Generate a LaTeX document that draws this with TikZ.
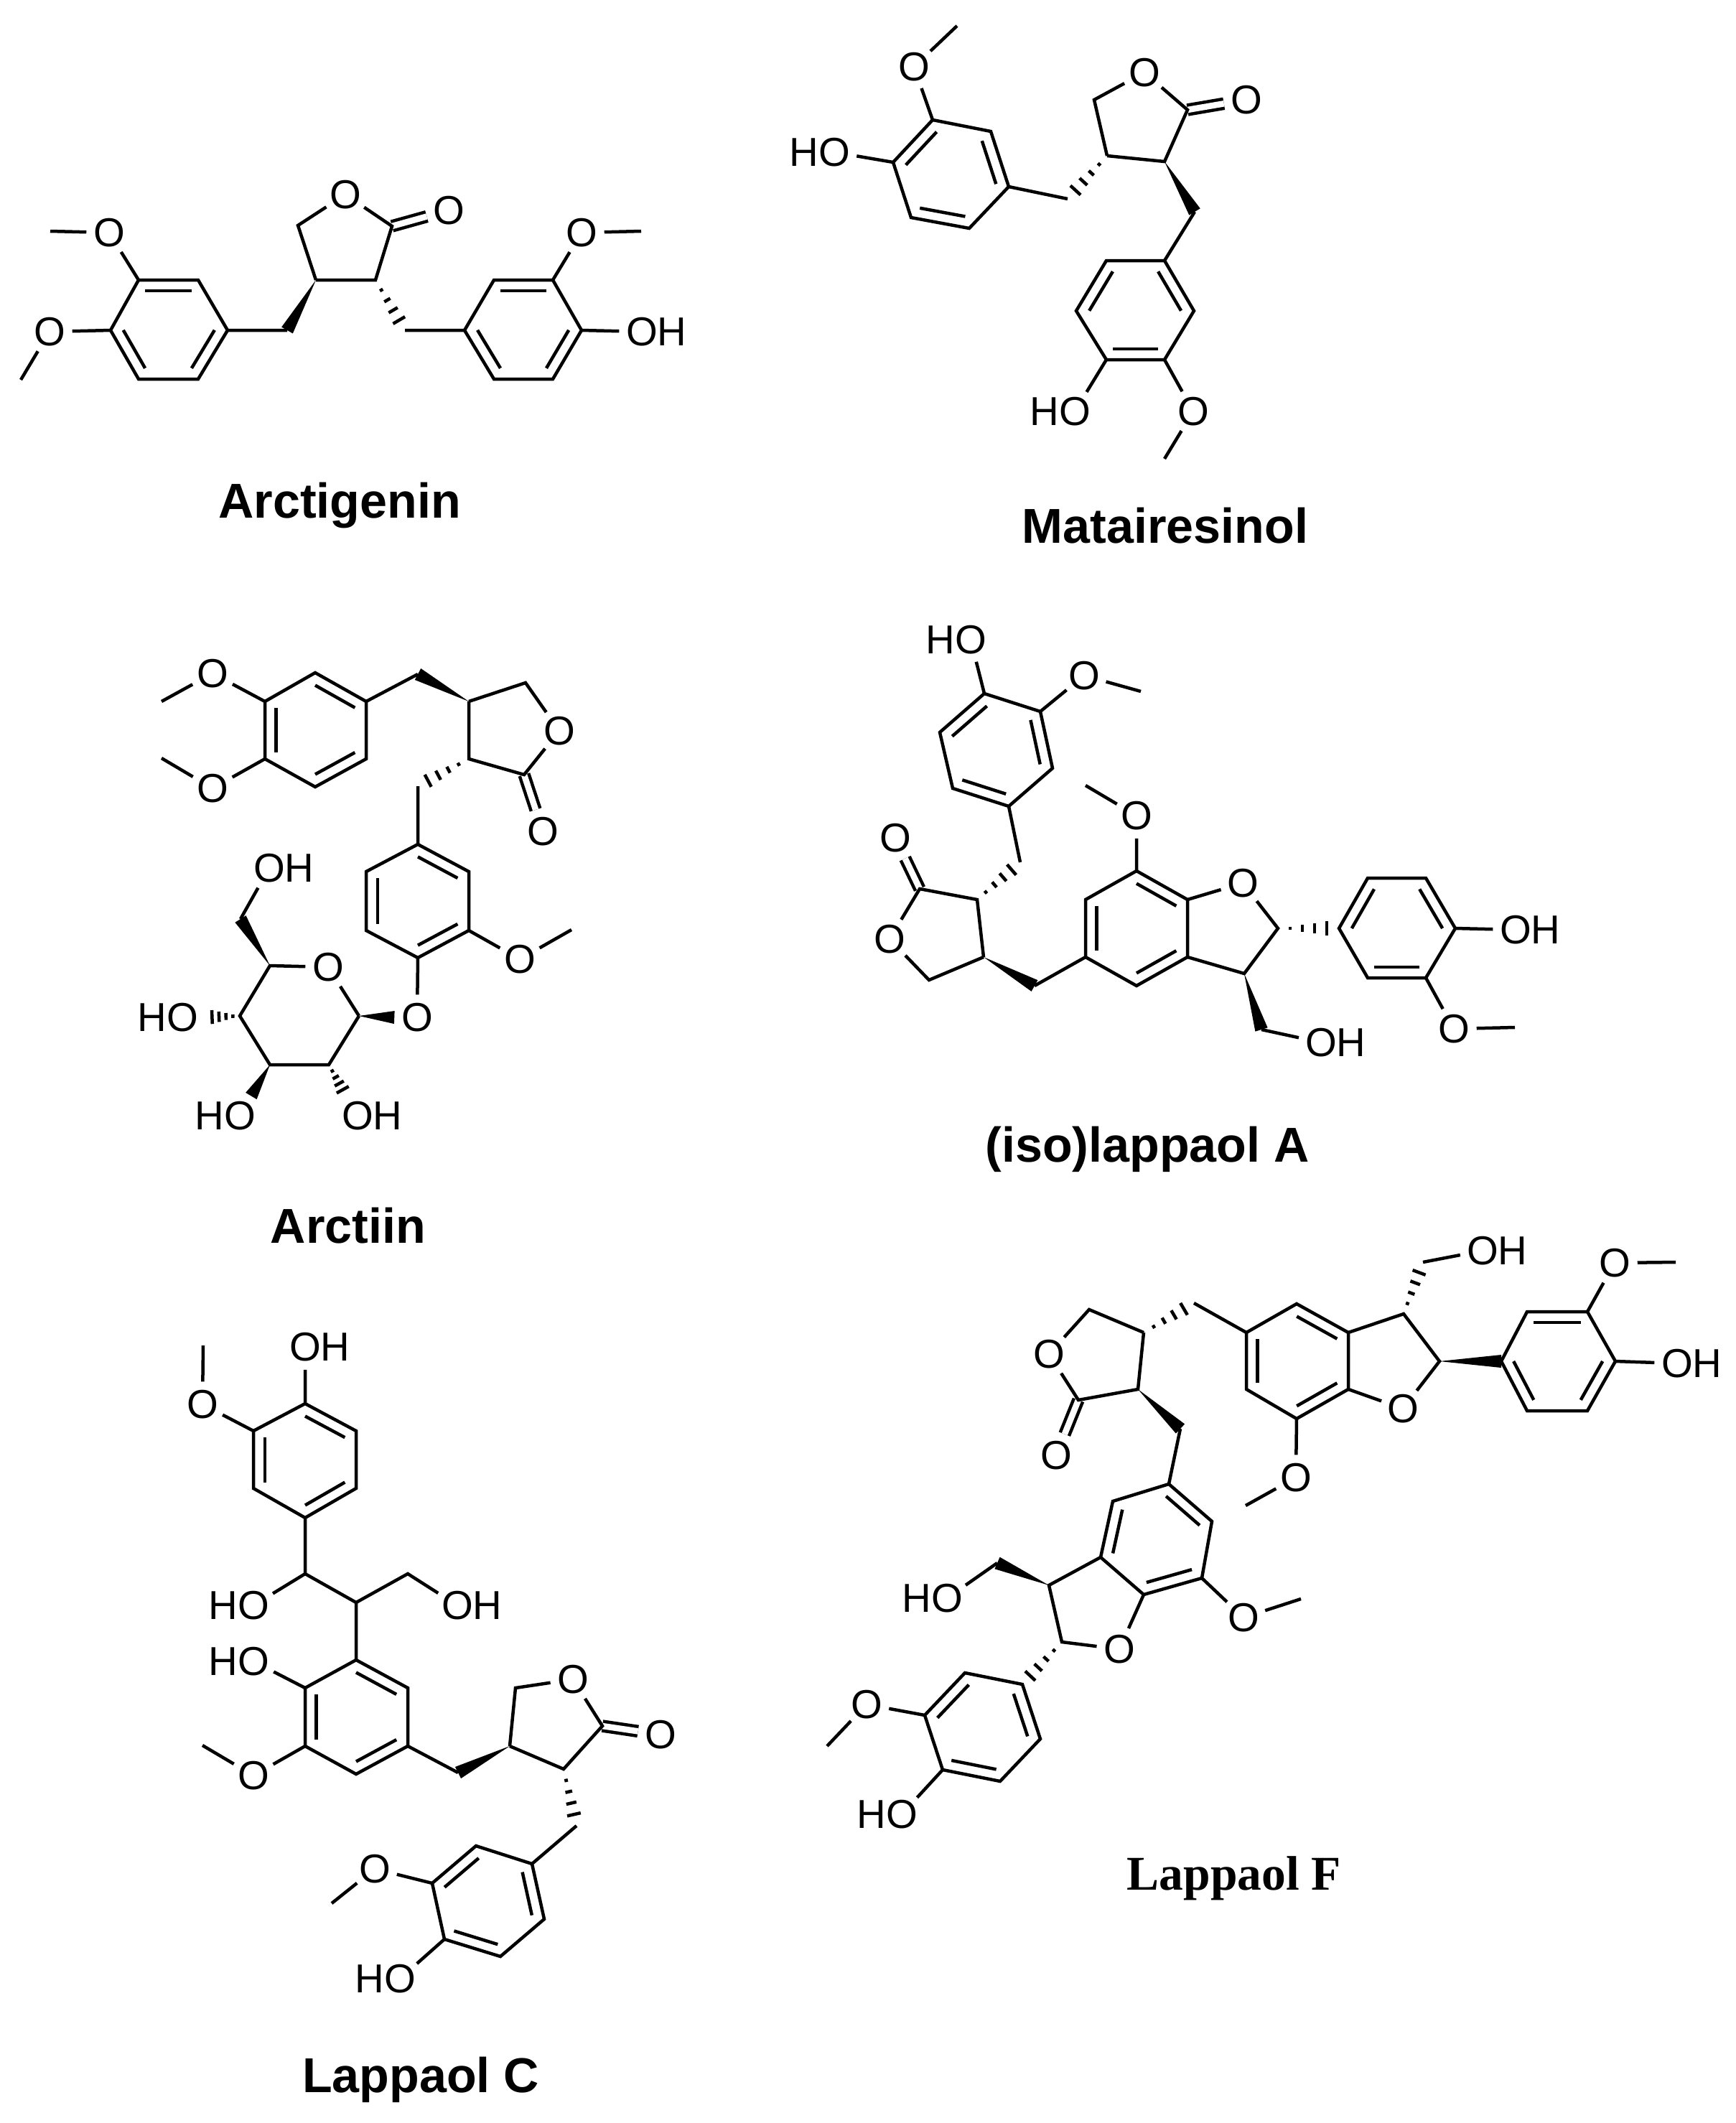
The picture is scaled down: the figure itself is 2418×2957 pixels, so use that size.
\documentclass[tikz,border=0pt]{standalone}
\usepackage{fontspec}
\setmainfont{Liberation Sans}
\newfontfamily\timesface{Liberation Serif}
\usetikzlibrary{calc}

\tikzset{
    atom/.style={circle, inner sep=0pt, minimum size=.58cm, font=\fontsize{16}{19}\selectfont},
    compound/.style={anchor=base, inner sep=0pt, font=\fontsize{19.4}{22}\selectfont\bfseries},
    carbonyl/.style={double, double distance=.085cm}
}
\newcommand{\OHtext}{O\rlap{H}}
\newcommand{\HOtext}{\llap{H}O}
\newcommand{\arene}[6]{
    \coordinate (rc) at ($(#1)!.5!(#4)$);
    \draw (#1) -- (#2) -- (#3) -- (#4) -- (#5) -- (#6) -- cycle;
    \draw ($(#1)!.22!(rc)$) -- ($(#2)!.22!(rc)$);
    \draw ($(#3)!.22!(rc)$) -- ($(#4)!.22!(rc)$);
    \draw ($(#5)!.22!(rc)$) -- ($(#6)!.22!(rc)$);
}
\newcommand{\wedgeb}[2]{
    \fill (#1) -- ($(#2)!.09cm!90:(#1)$) -- ($(#2)!.09cm!-90:(#1)$) -- cycle;
}
\newcommand{\hashb}[2]{
    \foreach \hf in {.2,.4,.6,.8}
        \draw ($(#1)!\hf!(#2)!\hf*.12cm!90:(#2)$) -- ($(#1)!\hf!(#2)!\hf*.12cm!-90:(#2)$);
}

\begin{document}
\begin{tikzpicture}[x=.01cm, y=-.01cm, line width=.045cm]
    \useasboundingbox (0,0) rectangle (2418,2957);

    \coordinate (ara1) at (193,390);
    \coordinate (ara2) at (276,390);
    \coordinate (ara3) at (317,460);
    \coordinate (ara4) at (276,528);
    \coordinate (ara5) at (193,528);
    \coordinate (ara6) at (154,460);
    \coordinate (arb1) at (647,460);
    \coordinate (arb2) at (688,390);
    \coordinate (arb3) at (770,390);
    \coordinate (arb4) at (810,460);
    \coordinate (arb5) at (770,528);
    \coordinate (arb6) at (688,528);
    \coordinate (arc2) at (546,315);
    \coordinate (arc3) at (523,390);
    \coordinate (arc4) at (440,390);
    \coordinate (arc5) at (415,314);
    \coordinate (arm1) at (400,460);
    \coordinate (arm2) at (564,460);
    \coordinate (arme1) at (70,322);
    \coordinate (arme2) at (29,529);
    \coordinate (arme3) at (893,322);
    \node[atom] (arol) at (481,271) {O};
    \node[atom] (arox) at (625,293) {O};
    \node[atom] (aro1) at (152,324) {O};
    \node[atom] (aro2) at (69,462) {O};
    \node[atom] (aro3) at (810,324) {O};
    \node[atom] (aroh) at (894,462) {\OHtext};
    \node[compound] (arname) at (473,721) {Arctigenin};
    \draw[carbonyl] (arc2) -- (arox);
    \arene{ara1}{ara2}{ara3}{ara4}{ara5}{ara6}
    \arene{arb2}{arb3}{arb4}{arb5}{arb6}{arb1}
    \draw (arc4) -- (arc3) -- (arc2) -- (arol) -- (arc5) -- (arc4);
    \wedgeb{arc4}{arm1}
    \hashb{arc3}{arm2}
    \draw
    (arm1) -- (ara3)
    (arm2) -- (arb1)
    (ara1) -- (aro1) -- (arme1)
    (ara6) -- (aro2) -- (arme2)
    (arb3) -- (aro3) -- (arme3)
    (arb4) -- (aroh);

    \coordinate (maa1) at (1299,167);
    \coordinate (maa2) at (1380,183);
    \coordinate (maa3) at (1405,260);
    \coordinate (maa4) at (1350,318);
    \coordinate (maa5) at (1269,303);
    \coordinate (maa6) at (1244,226);
    \coordinate (mab1) at (1622,363);
    \coordinate (mab2) at (1663,433);
    \coordinate (mab3) at (1622,501);
    \coordinate (mab4) at (1541,501);
    \coordinate (mab5) at (1499,433);
    \coordinate (mab6) at (1541,363);
    \coordinate (mac2) at (1654,153);
    \coordinate (mac3) at (1622,225);
    \coordinate (mac4) at (1542,217);
    \coordinate (mac5) at (1524,139);
    \coordinate (mam1) at (1487,277);
    \coordinate (mam2) at (1664,295);
    \coordinate (mame1) at (1333,36);
    \coordinate (mame2) at (1622,639);
    \node[atom] (maol) at (1594,101) {O};
    \node[atom] (maox) at (1736,139) {O};
    \node[atom] (mao1) at (1273,93) {O};
    \node[atom] (mao2) at (1662,573) {O};
    \node[atom] (maoh1) at (1162,212) {\HOtext};
    \node[atom] (maoh2) at (1497,573) {\HOtext};
    \node[compound] (maname) at (1623,756) {Matairesinol};
    \draw[carbonyl] (mac2) -- (maox);
    \arene{maa6}{maa1}{maa2}{maa3}{maa4}{maa5}
    \arene{mab1}{mab2}{mab3}{mab4}{mab5}{mab6}
    \draw (mac4) -- (mac3) -- (mac2) -- (maol) -- (mac5) -- (mac4);
    \hashb{mac4}{mam1}
    \wedgeb{mac3}{mam2}
    \draw
    (mam1) -- (maa3)
    (mam2) -- (mab1)
    (maa1) -- (mao1) -- (mame1)
    (maa6) -- (maoh1)
    (mab3) -- (mao2) -- (mame2)
    (mab4) -- (maoh2);

    \coordinate (ana1) at (439,937);
    \coordinate (ana2) at (510,977);
    \coordinate (ana3) at (510,1057);
    \coordinate (ana4) at (439,1096);
    \coordinate (ana5) at (369,1057);
    \coordinate (ana6) at (369,977);
    \coordinate (anb1) at (582,1176);
    \coordinate (anb2) at (653,1214);
    \coordinate (anb3) at (653,1296);
    \coordinate (anb4) at (582,1334);
    \coordinate (anb5) at (510,1296);
    \coordinate (anb6) at (510,1214);
    \coordinate (anc2) at (730,1079);
    \coordinate (anc3) at (653,1057);
    \coordinate (anc4) at (653,977);
    \coordinate (anc5) at (732,951);
    \coordinate (anm1) at (582,939);
    \coordinate (anm2) at (582,1095);
    \coordinate (anme1) at (225,977);
    \coordinate (anme2) at (225,1056);
    \coordinate (anme3) at (796,1295);
    \coordinate (ans1) at (500,1415);
    \coordinate (ans2) at (458,1483);
    \coordinate (ans3) at (376,1483);
    \coordinate (ans4) at (334,1415);
    \coordinate (ans5) at (376,1345);
    \coordinate (ans6) at (335,1280);
    \node[atom] (anol) at (779,1018) {O};
    \node[atom] (anox) at (756,1158) {O};
    \node[atom] (ano1) at (296,938) {O};
    \node[atom] (ano2) at (296,1098) {O};
    \node[atom] (ano3) at (724,1336) {O};
    \node[atom] (anog) at (581,1417) {O};
    \node[atom] (anos) at (457,1347) {O};
    \node[atom] (anoh6) at (375,1209) {\OHtext};
    \node[atom] (anoh4) at (254,1417) {\HOtext};
    \node[atom] (anoh3) at (334,1554) {\HOtext};
    \node[atom] (anoh2) at (498,1554) {\OHtext};
    \node[compound] (anname) at (485,1731) {Arctiin};
    \draw[carbonyl] (anc2) -- (anox);
    \arene{ana1}{ana2}{ana3}{ana4}{ana5}{ana6}
    \arene{anb1}{anb2}{anb3}{anb4}{anb5}{anb6}
    \draw (anc4) -- (anc3) -- (anc2) -- (anol) -- (anc5) -- (anc4);
    \wedgeb{anc4}{anm1}
    \hashb{anc3}{anm2}
    \wedgeb{ans1}{anog.west}
    \wedgeb{ans5}{ans6}
    \wedgeb{ans3}{anoh3.60}
    \hashb{ans4}{anoh4.east}
    \hashb{ans2}{anoh2.120}
    \draw
    (anm1) -- (ana2)
    (anm2) -- (anb1)
    (ana6) -- (ano1) -- (anme1)
    (ana5) -- (ano2) -- (anme2)
    (anb3) -- (ano3) -- (anme3)
    (anb4) -- (anog)
    (ans1) -- (anos) -- (ans5) -- (ans4) -- (ans3) -- (ans2) -- (ans1)
    (ans6) -- (anoh6);

    \coordinate (laa1) at (1371,966);
    \coordinate (laa2) at (1449,991);
    \coordinate (laa3) at (1466,1070);
    \coordinate (laa4) at (1405,1123);
    \coordinate (laa5) at (1327,1098);
    \coordinate (laa6) at (1309,1020);
    \coordinate (lab1) at (1512,1333);
    \coordinate (lab2) at (1512,1253);
    \coordinate (lab3) at (1583,1213);
    \coordinate (lab4) at (1654,1253);
    \coordinate (lab5) at (1654,1333);
    \coordinate (lab6) at (1583,1373);
    \coordinate (lad1) at (1865,1293);
    \coordinate (lad2) at (1905,1223);
    \coordinate (lad3) at (1986,1223);
    \coordinate (lad4) at (2027,1293);
    \coordinate (lad5) at (1986,1362);
    \coordinate (lad6) at (1905,1362);
    \coordinate (lac2) at (1281,1238);
    \coordinate (lac3) at (1361,1253);
    \coordinate (lac4) at (1370,1333);
    \coordinate (lac5) at (1294,1365);
    \coordinate (lam1) at (1421,1201);
    \coordinate (lam2) at (1441,1373);
    \coordinate (laf2) at (1780,1293);
    \coordinate (laf3) at (1733,1356);
    \coordinate (laf4) at (1757,1434);
    \coordinate (lame1) at (1589,963);
    \coordinate (lame2) at (1512,1094);
    \coordinate (lame3) at (2110,1431);
    \node[atom] (laol) at (1239,1308) {O};
    \node[atom] (laox) at (1247,1167) {O};
    \node[atom] (lao1) at (1510,941) {O};
    \node[atom] (lao2) at (1583,1136) {O};
    \node[atom] (lao3) at (2025,1433) {O};
    \node[atom] (laof) at (1731,1230) {O};
    \node[atom] (laoh1) at (1352,891) {\HOtext};
    \node[atom] (laoh2) at (2111,1295) {\OHtext};
    \node[atom] (laoh3) at (1840,1452) {\OHtext};
    \node[compound] (laname) at (1598,1618) {(iso)lappaol A};
    \draw[carbonyl] (lac2) -- (laox);
    \arene{laa6}{laa1}{laa2}{laa3}{laa4}{laa5}
    \arene{lab1}{lab2}{lab3}{lab4}{lab5}{lab6}
    \arene{lad1}{lad2}{lad3}{lad4}{lad5}{lad6}
    \draw (lac4) -- (lac3) -- (lac2) -- (laol) -- (lac5) -- (lac4);
    \hashb{lac3}{lam1}
    \wedgeb{lac4}{lam2}
    \hashb{laf2}{lad1}
    \wedgeb{laf3}{laf4}
    \draw
    (lam1) -- (laa4)
    (lam2) -- (lab1)
    (laa1) -- (laoh1)
    (laa2) -- (lao1) -- (lame1)
    (lab3) -- (lao2) -- (lame2)
    (lab4) -- (laof) -- (laf2) -- (laf3) -- (lab5)
    (laf4) -- (laoh3)
    (lad4) -- (laoh2)
    (lad5) -- (lao3) -- (lame3);

    \coordinate (lca1) at (425,1955);
    \coordinate (lca2) at (496,1993);
    \coordinate (lca3) at (496,2073);
    \coordinate (lca4) at (425,2114);
    \coordinate (lca5) at (353,2073);
    \coordinate (lca6) at (353,1993);
    \coordinate (lcb1) at (496,2312);
    \coordinate (lcb2) at (568,2351);
    \coordinate (lcb3) at (568,2432);
    \coordinate (lcb4) at (496,2471);
    \coordinate (lcb5) at (425,2432);
    \coordinate (lcb6) at (425,2351);
    \coordinate (lcd1) at (741,2596);
    \coordinate (lcd2) at (758,2673);
    \coordinate (lcd3) at (697,2725);
    \coordinate (lcd4) at (619,2701);
    \coordinate (lcd5) at (602,2623);
    \coordinate (lcd6) at (663,2571);
    \coordinate (lcc2) at (839,2404);
    \coordinate (lcc3) at (785,2464);
    \coordinate (lcc4) at (710,2432);
    \coordinate (lcc5) at (718,2351);
    \coordinate (lcm1) at (638,2469);
    \coordinate (lcm2) at (803,2543);
    \coordinate (lcs1) at (425,2192);
    \coordinate (lcs2) at (496,2232);
    \coordinate (lcs3) at (568,2192);
    \coordinate (lcme1) at (283,1874);
    \coordinate (lcme2) at (282,2431);
    \coordinate (lcme3) at (462,2651);
    \node[atom] (lcol) at (798,2339) {O};
    \node[atom] (lcox) at (920,2416) {O};
    \node[atom] (lco1) at (282,1956) {O};
    \node[atom] (lco2) at (353,2473) {O};
    \node[atom] (lco3) at (522,2603) {O};
    \node[atom] (lcoh1) at (425,1876) {\OHtext};
    \node[atom] (lcoh2) at (353,2236) {\HOtext};
    \node[atom] (lcoh3) at (637,2236) {\OHtext};
    \node[atom] (lcoh4) at (353,2314) {\HOtext};
    \node[atom] (lcoh5) at (557,2756) {\HOtext};
    \node[compound] (lcname) at (586,2914) {Lappaol C};
    \draw[carbonyl] (lcc2) -- (lcox);
    \arene{lca1}{lca2}{lca3}{lca4}{lca5}{lca6}
    \arene{lcb1}{lcb2}{lcb3}{lcb4}{lcb5}{lcb6}
    \arene{lcd1}{lcd2}{lcd3}{lcd4}{lcd5}{lcd6}
    \draw (lcc4) -- (lcc3) -- (lcc2) -- (lcol) -- (lcc5) -- (lcc4);
    \wedgeb{lcc4}{lcm1}
    \hashb{lcc3}{lcm2}
    \draw
    (lca1) -- (lcoh1)
    (lca6) -- (lco1) -- (lcme1)
    (lca4) -- (lcs1) -- (lcs2) -- (lcs3) -- (lcoh3)
    (lcs1) -- (lcoh2)
    (lcs2) -- (lcb1)
    (lcb6) -- (lcoh4)
    (lcb5) -- (lco2) -- (lcme2)
    (lcb3) -- (lcm1)
    (lcm2) -- (lcd1)
    (lcd5) -- (lco3) -- (lcme3)
    (lcd4) -- (lcoh5);

    \coordinate (lfa1) at (1736,1856);
    \coordinate (lfa2) at (1806,1816);
    \coordinate (lfa3) at (1878,1856);
    \coordinate (lfa4) at (1878,1935);
    \coordinate (lfa5) at (1806,1976);
    \coordinate (lfa6) at (1736,1935);
    \coordinate (lfb1) at (2091,1896);
    \coordinate (lfb2) at (2127,1827);
    \coordinate (lfb3) at (2211,1827);
    \coordinate (lfb4) at (2250,1896);
    \coordinate (lfb5) at (2211,1965);
    \coordinate (lfb6) at (2127,1965);
    \coordinate (lfd1) at (1628,2067);
    \coordinate (lfd2) at (1688,2119);
    \coordinate (lfd3) at (1674,2198);
    \coordinate (lfd4) at (1593,2221);
    \coordinate (lfd5) at (1533,2169);
    \coordinate (lfd6) at (1550,2091);
    \coordinate (lfe1) at (1424,2346);
    \coordinate (lfe2) at (1449,2422);
    \coordinate (lfe3) at (1393,2481);
    \coordinate (lfe4) at (1313,2465);
    \coordinate (lfe5) at (1288,2389);
    \coordinate (lfe6) at (1344,2330);
    \coordinate (lfc2) at (1502,1950);
    \coordinate (lfc3) at (1585,1935);
    \coordinate (lfc4) at (1593,1856);
    \coordinate (lfc5) at (1517,1824);
    \coordinate (lfm1) at (1663,1815);
    \coordinate (lfm2) at (1644,1990);
    \coordinate (lff2) at (2005,1896);
    \coordinate (lff3) at (1955,1830);
    \coordinate (lff4) at (1982,1758);
    \coordinate (lfg2) at (1479,2287);
    \coordinate (lfg3) at (1461,2208);
    \coordinate (lfg4) at (1389,2177);
    \coordinate (lfme1) at (2334,1758);
    \coordinate (lfme2) at (1735,2097);
    \coordinate (lfme3) at (1812,2227);
    \coordinate (lfme4) at (1152,2432);
    \node[atom] (lfol) at (1461,1886) {O};
    \node[atom] (lfox) at (1471,2027) {O};
    \node[atom] (lfof) at (1954,1962) {O};
    \node[atom] (lfog) at (1559,2297) {O};
    \node[atom] (lfo1) at (2249,1759) {O};
    \node[atom] (lfo2) at (1805,2058) {O};
    \node[atom] (lfo3) at (1732,2253) {O};
    \node[atom] (lfo4) at (1207,2374) {O};
    \node[atom] (lfoh1) at (2065,1742) {\OHtext};
    \node[atom] (lfoh2) at (2336,1899) {\OHtext};
    \node[atom] (lfoh3) at (1319,2226) {\HOtext};
    \node[atom] (lfoh4) at (1256,2527) {\HOtext};
    \node[compound, font=\fontsize{19.2}{22}\selectfont\timesface\bfseries] (lfname) at (1719,2632) {Lappaol F};
    \draw[carbonyl] (lfc2) -- (lfox);
    \arene{lfa6}{lfa1}{lfa2}{lfa3}{lfa4}{lfa5}
    \arene{lfb2}{lfb3}{lfb4}{lfb5}{lfb6}{lfb1}
    \arene{lfd1}{lfd2}{lfd3}{lfd4}{lfd5}{lfd6}
    \arene{lfe1}{lfe2}{lfe3}{lfe4}{lfe5}{lfe6}
    \draw (lfc4) -- (lfc3) -- (lfc2) -- (lfol) -- (lfc5) -- (lfc4);
    \hashb{lfc4}{lfm1}
    \wedgeb{lfc3}{lfm2}
    \hashb{lff3}{lff4}
    \wedgeb{lff2}{lfb1}
    \wedgeb{lfg3}{lfg4}
    \hashb{lfg2}{lfe1}
    \draw
    (lfm1) -- (lfa1)
    (lfm2) -- (lfd1)
    (lfa3) -- (lff3) -- (lff2) -- (lfof) -- (lfa4)
    (lff4) -- (lfoh1)
    (lfb3) -- (lfo1) -- (lfme1)
    (lfb4) -- (lfoh2)
    (lfa5) -- (lfo2) -- (lfme2)
    (lfd3) -- (lfo3) -- (lfme3)
    (lfd5) -- (lfg3) -- (lfg2) -- (lfog) -- (lfd4)
    (lfg4) -- (lfoh3)
    (lfe5) -- (lfo4) -- (lfme4)
    (lfe4) -- (lfoh4);
\end{tikzpicture}
\end{document}
